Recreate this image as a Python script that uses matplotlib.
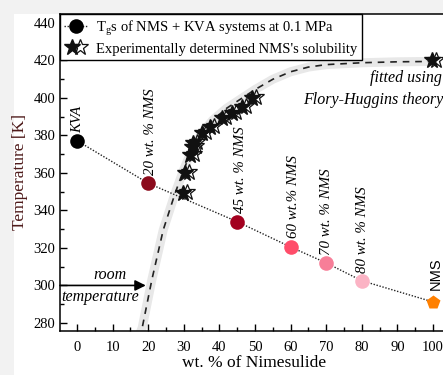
import matplotlib
matplotlib.use("Agg")
import matplotlib.pyplot as plt
from matplotlib.patches import Rectangle
from matplotlib.lines import Line2D
from matplotlib.legend_handler import HandlerTuple
from matplotlib.ticker import MultipleLocator

plt.rcParams['font.family'] = ['Liberation Serif', 'DejaVu Serif']
plt.rcParams['mathtext.fontset'] = 'custom'
plt.rcParams['mathtext.rm'] = 'Liberation Serif'

# Tg data
tg_x = [0, 20, 45, 60, 70, 80, 100]
tg_T = [377.2, 354.5, 334.0, 320.5, 312.0, 302.5, 291.2]
tg_colors = ['#000000', '#8b0b1c', '#a3001f', '#ff4d6a', '#f77e98', '#fbb3c4', '#ff8000']
tg_labels = ['KVA', '20 wt. % NMS', '45 wt. % NMS', '60 wt.% NMS', '70 wt. % NMS', '80 wt. % NMS', 'NMS']
lab_x = [0.3, 20.5, 45.8, 60.7, 70.2, 80.3, 100.8]
lab_y = [381.5, 359.0, 338.5, 325.5, 316.0, 306.5, 297.5]

# solubility stars
sol_x = [29.8, 30.3, 31.7, 32.3, 32.6, 35.1, 37.4, 40.7, 43.5, 46.3, 49.2, 99.7]
sol_T = [349.3, 360.0, 369.6, 373.9, 376.0, 381.3, 384.5, 389.3, 392.0, 395.2, 400.0, 420.0]

# fitted Flory-Huggins curve
fit_x = [17.2, 18.3, 21.0, 24.2, 27.5, 30.0, 32.0, 35.0, 38.0, 42.0, 46.0, 50.0, 55.0, 60.0, 65.0, 70.0, 80.0, 90.0, 100.0]
fit_T = [272.0, 277.5, 303.0, 329.6, 349.0, 362.0, 371.0, 381.0, 388.0, 394.5, 399.5, 404.5, 410.0, 414.0, 416.5, 417.8, 418.8, 419.3, 419.5]

fig = plt.figure(figsize=(4.43, 3.75), dpi=100, facecolor='#f2f2f2')
fig.patches.append(Rectangle((14/443, 0), 1, (375-14)/375, transform=fig.transFigure,
                             facecolor='white', edgecolor='none', zorder=-10))
ax = fig.add_axes([60/443, 1-331/375, (447.3-60)/443, (331-14)/375])
ax.set_facecolor('none')

ax.plot(fit_x, fit_T, color='#e8e8e8', lw=6.5, solid_capstyle='butt', zorder=1)
ax.plot(fit_x, fit_T, color='#222222', lw=1.2, ls=(0, (4, 3.5)), zorder=2)

ax.plot(tg_x, tg_T, color='#222222', lw=1.0, ls=(0, (1, 1.2)), zorder=3)
for i in range(len(tg_x)):
    mk = 'p' if i == len(tg_x) - 1 else 'o'
    ax.plot(tg_x[i], tg_T[i], marker=mk, ms=10.5, color=tg_colors[i], mec='none', zorder=4)
    if tg_labels[i] == 'NMS':
        ax.text(lab_x[i], lab_y[i], tg_labels[i], rotation=90, ha='center', va='bottom',
                fontsize=10.5, family=['Liberation Sans', 'DejaVu Sans'], zorder=5)
    else:
        ax.text(lab_x[i], lab_y[i], tg_labels[i], rotation=90, ha='center', va='bottom',
                fontsize=10.8, style='italic', zorder=5)

ax.plot(sol_x, sol_T, ls='none', marker='*', ms=12, color='#111111', mec='#111111', zorder=6)
ax.plot([v + 1.2 for v in sol_x], [v + 0.3 for v in sol_T], ls='none', marker='*', ms=12,
        mfc='none', mec='#111111', mew=0.9, zorder=7)

ax.text(102.5, 410.7, 'fitted using', ha='right', va='center', style='italic', fontsize=11.5)
ax.text(102.9, 399.0, 'Flory-Huggins theory', ha='right', va='center', style='italic', fontsize=11.5)

ax.annotate('', xy=(19.3, 300), xytext=(-4.8, 300),
            arrowprops=dict(arrowstyle='-|>', color='black', lw=1.2, mutation_scale=16,
                            shrinkA=0, shrinkB=0))
ax.text(9.3, 305.6, 'room', ha='center', va='center', style='italic', fontsize=11.5)
ax.text(6.5, 293.9, 'temperature', ha='center', va='center', style='italic', fontsize=11.5)

ax.set_xlim(-4.8, 104)
ax.set_ylim(275.7, 444.8)
ax.xaxis.set_major_locator(MultipleLocator(10))
ax.xaxis.set_minor_locator(MultipleLocator(5))
ax.yaxis.set_major_locator(MultipleLocator(20))
ax.yaxis.set_minor_locator(MultipleLocator(10))
ax.tick_params(which='both', direction='in', labelsize=10.5, width=1)
ax.tick_params(which='major', length=5)
ax.tick_params(which='minor', length=3)
ax.tick_params(axis='x', pad=7)
for s in ax.spines.values():
    s.set_linewidth(1.1)

ax.set_xlabel('wt. % of Nimesulide', fontsize=12.5, labelpad=1)
ax.set_ylabel('Temperature [K]', fontsize=12.5, color='#4e1a1a', labelpad=4)

h1 = Line2D([], [], color='#222222', ls=(0, (1, 1.2)), lw=1.0, marker='o', ms=10.5, mfc='black', mec='none')
h2a = Line2D([], [], ls='none', marker='*', ms=12, color='#111111')
h2b = Line2D([], [], ls='none', marker='*', ms=12, mfc='none', mec='#111111', mew=0.9)
leg = ax.legend([h1, (h2a, h2b)],
                [r'T$_\mathrm{g}$s of NMS + KVA systems at 0.1 MPa', "Experimentally determined NMS's solubility"],
                handler_map={tuple: HandlerTuple(ndivide=2, pad=-0.6)},
                loc='upper left', bbox_to_anchor=(0, 1), borderaxespad=0, fontsize=10.5,
                frameon=True, fancybox=False, edgecolor='black', framealpha=1,
                handlelength=1.6, handletextpad=0.6, borderpad=0.3, labelspacing=0.3)
leg.get_frame().set_linewidth(1.0)
leg.set_zorder(10)

fig.savefig('out.png', dpi=100, facecolor=fig.get_facecolor())
